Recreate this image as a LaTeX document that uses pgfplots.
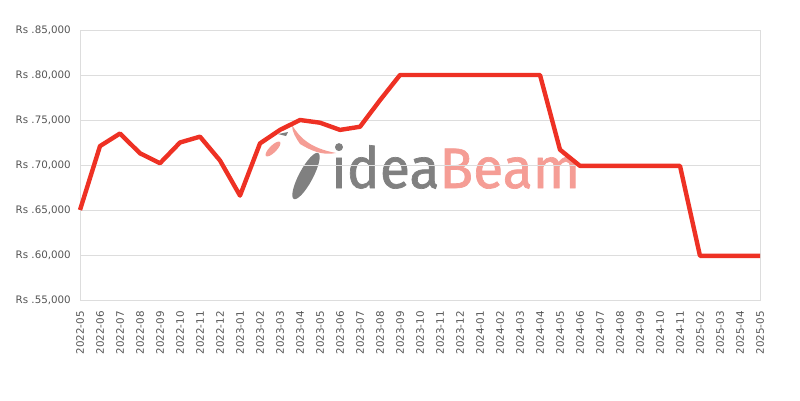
\documentclass[border=0pt]{standalone}
\usepackage{pgfplots}
\pgfplotsset{compat=1.18}
\usepackage{fontspec}
\setmainfont{DejaVu Sans}
\newfontfamily\logofont[FakeBold=1.2, FakeStretch=0.97]{Fira Sans}
\definecolor{linered}{HTML}{EE3124}
\definecolor{gridgray}{HTML}{DDDDDD}
\definecolor{labelgray}{HTML}{555555}
\definecolor{logogray}{HTML}{808080}
\definecolor{logopink}{HTML}{F59D95}

\pgfplotstableread{
idx price
0  65000
1  72100
2  73500
3  71300
4  70200
5  72500
6  73150
7  70500
8  66600
9  72400
10 73900
11 75000
12 74700
13 73900
14 74250
15 77200
16 80000
17 80000
18 80000
19 80000
20 80000
21 80000
22 80000
23 80000
24 71700
25 69900
26 69900
27 69900
28 69900
29 69900
30 69900
31 59900
32 59900
33 59900
34 59900
}\pricedata

\begin{document}
\begin{tikzpicture}[x=1pt,y=1pt]
\path[use as bounding box] (0,0) rectangle (800,400);
% watermark (y measured from the bottom: 400 - pixel row)
\node[anchor=base west, inner sep=0pt, font=\logofont\fontsize{57}{57}\selectfont]
  at (331,212) {\textcolor{logogray}{idea}\textcolor{logopink}{Beam}};
\fill[logogray, rotate around={62:(306,224)}] (306,224) ellipse (26pt and 7pt);
\fill[logopink] (292,275) .. controls (300,262) and (310,252) .. (336,247)
  .. controls (322,244) and (310,250) .. (300,256) .. controls (296,262) and (292,268) .. (292,275);
\fill[logopink, rotate around={45:(273,251)}] (273,251) ellipse (10pt and 3.5pt);
\fill[logogray] (278,266) -- (288,268) -- (286,264) -- cycle;
\begin{axis}[
  at={(80pt,100pt)}, anchor=south west,
  width=680pt, height=270pt, scale only axis,
  xmin=0, xmax=34, ymin=55000, ymax=85000,
  scaled y ticks=false,
  xtick={0,...,34},
  xticklabels={2022-05,2022-06,2022-07,2022-08,2022-09,2022-10,2022-11,2022-12,
    2023-01,2023-02,2023-03,2023-04,2023-05,2023-06,2023-07,2023-08,2023-09,2023-10,2023-11,2023-12,
    2024-01,2024-02,2024-03,2024-04,2024-05,2024-06,2024-07,2024-08,2024-09,2024-10,2024-11,
    2025-02,2025-03,2025-04,2025-05},
  ytick={55000,60000,65000,70000,75000,80000,85000},
  yticklabels={{Rs .55,000},{Rs .60,000},{Rs .65,000},{Rs .70,000},{Rs .75,000},{Rs .80,000},{Rs .85,000}},
  x tick label style={rotate=90, anchor=east, font=\fontsize{10.3}{12}\selectfont, text=labelgray, inner sep=0pt, xshift=-11pt},
  y tick label style={font=\fontsize{10.3}{12}\selectfont, text=labelgray, inner sep=0pt, xshift=-9pt},
  xtick style={draw=none}, ytick style={draw=none},
  ymajorgrids, grid style={gridgray, line width=0.8pt},
  axis line style={gridgray, line width=0.8pt},
  clip=false,
]
\addplot[linered, line width=4.4pt, line join=round] table[x=idx, y=price] {\pricedata};
\end{axis}
\end{tikzpicture}
\end{document}
